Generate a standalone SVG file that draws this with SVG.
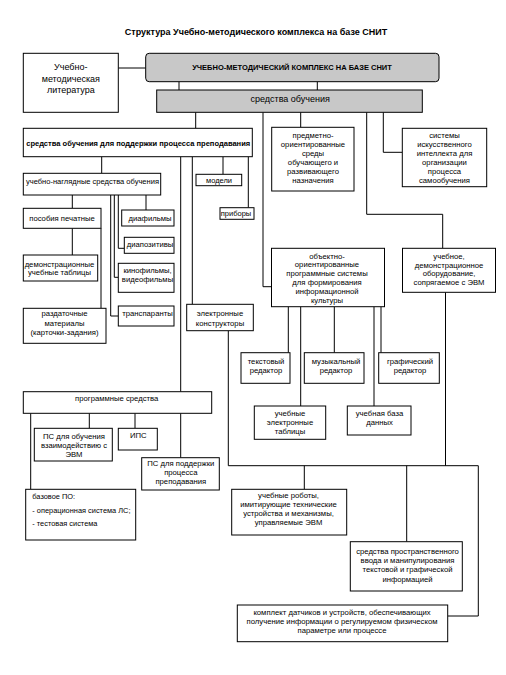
<svg xmlns="http://www.w3.org/2000/svg" width="506" height="675" viewBox="0 0 506 675">
<style>
rect{fill:#fff;stroke:#000;stroke-width:1}
rect.g{fill:#c8c8c8}
#connectors path{fill:none;stroke:#000;stroke-width:1}
text{font-family:"Liberation Sans",Arial,sans-serif;font-size:7.7px;fill:#000;text-anchor:middle}
.b{font-weight:bold}
.l{text-anchor:start}
</style>
<rect x="0" y="0" width="506" height="675" style="fill:#fff;stroke:none"/>
<text class="b" x="256" y="34.5" style="font-size:9px">Структура Учебно-методического комплекса на базе СНИТ</text>
<g id="connectors">
<path d="M118.3 68H145.7"/>
<path d="M179 81.7V90M317.3 81.7V90"/>
<path d="M195.7 112.3V128.3"/>
<path d="M263 112.3V286.7H271.5"/>
<path d="M300.7 112.3V127.3"/>
<path d="M366.7 112.3V214.3H442.7V248.3"/>
<path d="M383.3 112.3V152.3H402.3"/>
<path d="M101.7 156.7V173.3"/>
<path d="M180.7 156.7V391.7"/>
<path d="M192.3 156.7V304.3"/>
<path d="M223 156.7V174.3"/>
<path d="M248.3 156.7V207.7"/>
<path d="M72.3 195V208.3"/>
<path d="M110.7 195V316H118.3"/>
<path d="M114.3 195V277.3H118.3"/>
<path d="M118.3 195V248.3H124.3"/>
<path d="M146 195V210"/>
<path d="M72.3 228.3V255"/>
<path d="M101 228.3V308.3"/>
<path d="M228.3 330.7V465.7H478.3V616H447.7"/>
<path d="M445.5 292.3V465.7"/>
<path d="M304.3 465.7V489.3"/>
<path d="M406.7 465.7V541.7"/>
<path d="M288.3 306.7V352.7"/>
<path d="M300.7 306.7V406"/>
<path d="M334.3 306.7V352.7"/>
<path d="M374 306.7V406"/>
<path d="M381 306.7V352.7"/>
<path d="M30.7 413.3V489.3"/>
<path d="M89.3 413.3V428.3"/>
<path d="M135 413.3V428.3"/>
<path d="M180.7 413.3V457.7"/>
</g>
<g id="lit">
<rect x="23.3" y="53.3" width="95" height="59"/>
<text x="70.8" y="70" style="font-size:9px">Учебно-</text>
<text x="70.8" y="81.5" style="font-size:9px">методическая</text>
<text x="70.8" y="93" style="font-size:9px">литература</text>
</g>
<g id="umk">
<rect class="g" x="145.7" y="53.3" width="293.3" height="28.4" rx="3.5"/>
<text class="b" x="292" y="69.8" style="font-size:7.5px">УЧЕБНО-МЕТОДИЧЕСКИЙ КОМПЛЕКС НА БАЗЕ СНИТ</text>
</g>
<g id="so">
<rect class="g" x="156.7" y="90" width="265.6" height="22.3"/>
<text x="290.2" y="102" style="font-size:9px">средства обучения</text>
</g>
<g id="podd">
<rect x="23.3" y="128.3" width="229" height="28.4"/>
<text class="b" x="138.2" y="146" style="font-size:7.5px" textLength="224" lengthAdjust="spacingAndGlyphs">средства обучения для поддержки процесса преподавания</text>
</g>
<g id="predm">
<rect x="271.7" y="127.3" width="82.3" height="63.7"/>
<text x="313" y="137.5">предметно-</text>
<text x="313" y="146.5">ориентированные</text>
<text x="313" y="155.5">среды</text>
<text x="313" y="164.5">обучающего и</text>
<text x="313" y="173.5">развивающего</text>
<text x="313" y="182.5">назначения</text>
</g>
<g id="ii">
<rect x="402.3" y="128.3" width="84.4" height="58.4"/>
<text x="444.5" y="137.5">системы</text>
<text x="444.5" y="146.6">искусственного</text>
<text x="444.5" y="155.7">интеллекта для</text>
<text x="444.5" y="164.8">организации</text>
<text x="444.5" y="173.9">процесса</text>
<text x="444.5" y="183">самообучения</text>
</g>
<g id="ung">
<rect x="23.3" y="173.3" width="137.4" height="21.7"/>
<text x="92.5" y="184.3" style="font-size:7.5px" textLength="133" lengthAdjust="spacingAndGlyphs">учебно-наглядные средства обучения</text>
</g>
<g id="modeli">
<rect x="196" y="174.3" width="45.7" height="11.4"/>
<text x="219" y="182.8" style="font-size:7.5px">модели</text>
</g>
<g id="pribory">
<rect x="220" y="207.7" width="34" height="11.6"/>
<text x="236" y="216.2" style="font-size:7.5px">приборы</text>
</g>
<g id="posob">
<rect x="23.3" y="208.3" width="77.7" height="20"/>
<text x="62" y="221">пособия печатные</text>
</g>
<g id="diaf">
<rect x="121.7" y="210" width="52.3" height="16"/>
<text x="150" y="221">диафильмы</text>
</g>
<g id="diap">
<rect x="124.3" y="237.3" width="49.7" height="16"/>
<text x="150" y="247.2">диапозитивы</text>
</g>
<g id="kino">
<rect x="118.3" y="263.3" width="55.7" height="29"/>
<text x="147.5" y="272.5">кинофильмы,</text>
<text x="147.5" y="282">видеофильмы</text>
</g>
<g id="transp">
<rect x="118.3" y="306" width="55.7" height="20"/>
<text x="147.5" y="316.2">транспаранты</text>
</g>
<g id="demo">
<rect x="23.3" y="255" width="74.4" height="26"/>
<text x="59.5" y="266.5">демонстрационные</text>
<text x="59.5" y="275.2">учебные таблицы</text>
</g>
<g id="razd">
<rect x="23.3" y="308.3" width="82.7" height="35"/>
<text x="64.5" y="316.2">раздаточные</text>
<text x="64.5" y="325.5">материалы</text>
<text x="64.5" y="334.8">(карточки-задания)</text>
</g>
<g id="elk">
<rect x="186.7" y="304.3" width="66.6" height="26.4"/>
<text x="220" y="316">электронные</text>
<text x="220" y="326">конструкторы</text>
</g>
<g id="oops">
<rect x="271.5" y="248.3" width="113" height="58.4"/>
<text x="327" y="258.5">объектно-</text>
<text x="327" y="267.3">ориентированные</text>
<text x="327" y="276.1">программные системы</text>
<text x="327" y="284.9">для формирования</text>
<text x="327" y="293.7">информационной</text>
<text x="327" y="302.5">культуры</text>
</g>
<g id="obor">
<rect x="402.5" y="248.3" width="93" height="44"/>
<text x="449" y="259">учебное,</text>
<text x="449" y="267.6">демонстрационное</text>
<text x="449" y="276.2">оборудование,</text>
<text x="449" y="284.8">сопрягаемое с ЭВМ</text>
</g>
<g id="text-ed">
<rect x="241" y="352.7" width="49" height="30.6"/>
<text x="266" y="363.5">текстовый</text>
<text x="266" y="372.5">редактор</text>
</g>
<g id="mus-ed">
<rect x="304.3" y="352.7" width="59.7" height="30.6"/>
<text x="336" y="363.5">музыкальный</text>
<text x="336" y="372.5">редактор</text>
</g>
<g id="gr-ed">
<rect x="378.7" y="352.7" width="60.6" height="30.6"/>
<text x="410" y="363.5">графический</text>
<text x="410" y="372.5">редактор</text>
</g>
<g id="tabl">
<rect x="254.3" y="406" width="71.4" height="33.3"/>
<text x="290" y="416">учебные</text>
<text x="290" y="425">электронные</text>
<text x="290" y="434">таблицы</text>
</g>
<g id="bd">
<rect x="347.3" y="406" width="63.7" height="29"/>
<text x="379.5" y="416">учебная база</text>
<text x="379.5" y="424.5">данных</text>
</g>
<g id="prog">
<rect x="23.3" y="391.7" width="188.4" height="21.6"/>
<text x="116.7" y="401">программные средства</text>
</g>
<g id="ps-ob">
<rect x="34.3" y="428.3" width="78" height="32.7"/>
<text x="74" y="438.5">ПС для обучения</text>
<text x="74" y="447.5">взаимодействию с</text>
<text x="74" y="456.5">ЭВМ</text>
</g>
<g id="ips">
<rect x="118.3" y="428.3" width="39" height="21.7"/>
<text x="138.3" y="437.8">ИПС</text>
</g>
<g id="ps-podd">
<rect x="141.7" y="457.7" width="77.6" height="32.3"/>
<text x="180.8" y="466">ПС для поддержки</text>
<text x="180.8" y="474.8">процесса</text>
<text x="180.8" y="483.6">преподавания</text>
</g>
<g id="base">
<rect x="25.7" y="489.3" width="110" height="50.7"/>
<text class="l" x="32.3" y="499.2" style="font-size:7.4px">базовое ПО:</text>
<text class="l" x="32.3" y="512.6" style="font-size:7.4px">- операционная система ЛС;</text>
<text class="l" x="32.3" y="526" style="font-size:7.4px">- тестовая система</text>
</g>
<g id="robots">
<rect x="231.7" y="489.3" width="115" height="45.7"/>
<text x="288.5" y="497.8">учебные роботы,</text>
<text x="288.5" y="506.8">имитирующие технические</text>
<text x="288.5" y="515.8">устройства и механизмы,</text>
<text x="288.5" y="524.8">управляемые ЭВМ</text>
</g>
<g id="vvod">
<rect x="350.3" y="541.7" width="112" height="49.3"/>
<text x="407.5" y="554.2">средства пространственного</text>
<text x="407.5" y="563.3">ввода и манипулирования</text>
<text x="407.5" y="572.4">текстовой и графической</text>
<text x="407.5" y="581.5">информацией</text>
</g>
<g id="datch">
<rect x="237.3" y="605" width="210.4" height="36.7"/>
<text x="342" y="615">комплект датчиков и устройств, обеспечивающих</text>
<text x="342" y="624.2">получение информации о регулируемом физическом</text>
<text x="342" y="633.4">параметре или процессе</text>
</g>
</svg>
